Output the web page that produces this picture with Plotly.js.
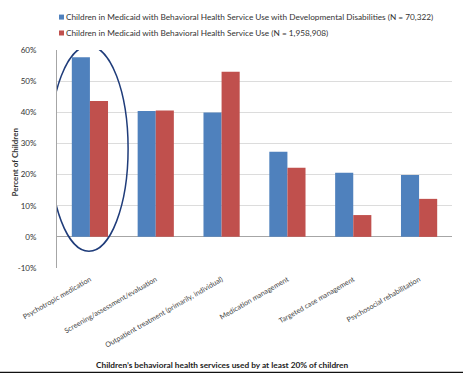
<!DOCTYPE html>
<html><head><meta charset="utf-8">
<script src="https://cdn.plot.ly/plotly-3.0.1.min.js"></script>
<style>html,body{margin:0;padding:0;background:#fff}#c{width:463px;height:373px}</style>
</head><body><div id="c"></div>
<script>
const categories = ["Psychotropic medication","Screening/assessment/evaluation","Outpatient treatment (primarily, individual)","Medication management","Targeted case management","Psychosocial rehabilitation"];
const seriesNames = ["Children in Medicaid with Behavioral Health Service Use with Developmental Disabilities (N = 70,322)","Children in Medicaid with Behavioral Health Service Use (N = 1,958,908)"];
const seriesColors = ["#4F81BD", "#C0504D"];
const ddValues = [57.7, 40.4, 39.9, 27.3, 20.6, 19.9];
const allValues = [43.6, 40.6, 53.0, 22.2, 7.0, 12.2];
const yTicks = [-10, 0, 10, 20, 30, 40, 50, 60];
const yTickText = ["-10%","0%","10%","20%","30%","40%","50%","60%"];
const yTitle = "Percent of Children";
const xTitle = "Children’s behavioral health services used by at least 20% of children";

const font = "Lato, 'Open Sans', sans-serif";
const seriesValues = [ddValues, allValues];
const traces = seriesValues.map((v, i) => ({
  type:"bar", name:seriesNames[i], x:categories, y:v, marker:{color:seriesColors[i]}, showlegend:false
}));

const legendRows = [1.151, 1.078];
const legendShapes = seriesNames.map((n, i) => ({
  type:"rect", xref:"paper", yref:"paper", x0:0.005, x1:0.0177,
  y0:legendRows[i]-0.0115, y1:legendRows[i]+0.0115, fillcolor:seriesColors[i], line:{width:0}
}));
const legendAnns = seriesNames.map((n, i) => ({
  xref:"paper", yref:"paper", x:0.0177, y:legendRows[i], xanchor:"left", yanchor:"middle",
  text:n, showarrow:false, font:{size:8.25, color:"#333"}
}));

const layout = {
  width:463, height:373,
  margin:{l:57, r:11, t:50, b:105},
  paper_bgcolor:"#fff", plot_bgcolor:"#fff",
  barmode:"group", bargap:0.45, bargroupgap:0,
  font:{family:font, size:8, color:"#333"},
  showlegend:false,
  xaxis:{type:"category", range:[-0.5, 5.5], tickangle:-30, tickfont:{size:7.2, color:"#444"},
         ticklabelstandoff:5,
         showgrid:false, showline:false, ticks:"", automargin:false},
  yaxis:{range:[-10,60], tickvals:yTicks, ticktext:yTickText, tickfont:{size:8, color:"#333"},
         ticklabelstandoff:18,
         showgrid:true, gridcolor:"#DCDCDC", gridwidth:1,
         zeroline:true, zerolinecolor:"#A6A6A6", zerolinewidth:1,
         showline:true, linecolor:"#A6A6A6", linewidth:1, ticks:"", automargin:false},
  annotations:[
    {xref:"paper", yref:"paper", x:0.42, y:-0.445, xanchor:"center", yanchor:"middle",
     text:"<b>"+xTitle+"</b>", showarrow:false, font:{size:8.3, color:"#222"}},
    {xref:"paper", yref:"paper", x:-0.105, y:0.486, xanchor:"center", yanchor:"middle",
     text:"<b>"+yTitle+"</b>", textangle:-90, showarrow:false, font:{size:8, color:"#333"}}
  ].concat(legendAnns),
  shapes:[
    {type:"circle", xref:"x", yref:"y", x0:-0.61, x1:0.58, y0:-4.6, y1:61.3,
     line:{color:"#1F3C7A", width:1.5}},
    {type:"line", xref:"paper", yref:"paper", x0:-0.2, x1:1.1, y0:-0.48, y1:-0.48,
     line:{color:"#111", width:2}}
  ].concat(legendShapes)
};
Plotly.newPlot("c", traces, layout, {displayModeBar:false, staticPlot:true});
</script></body></html>
